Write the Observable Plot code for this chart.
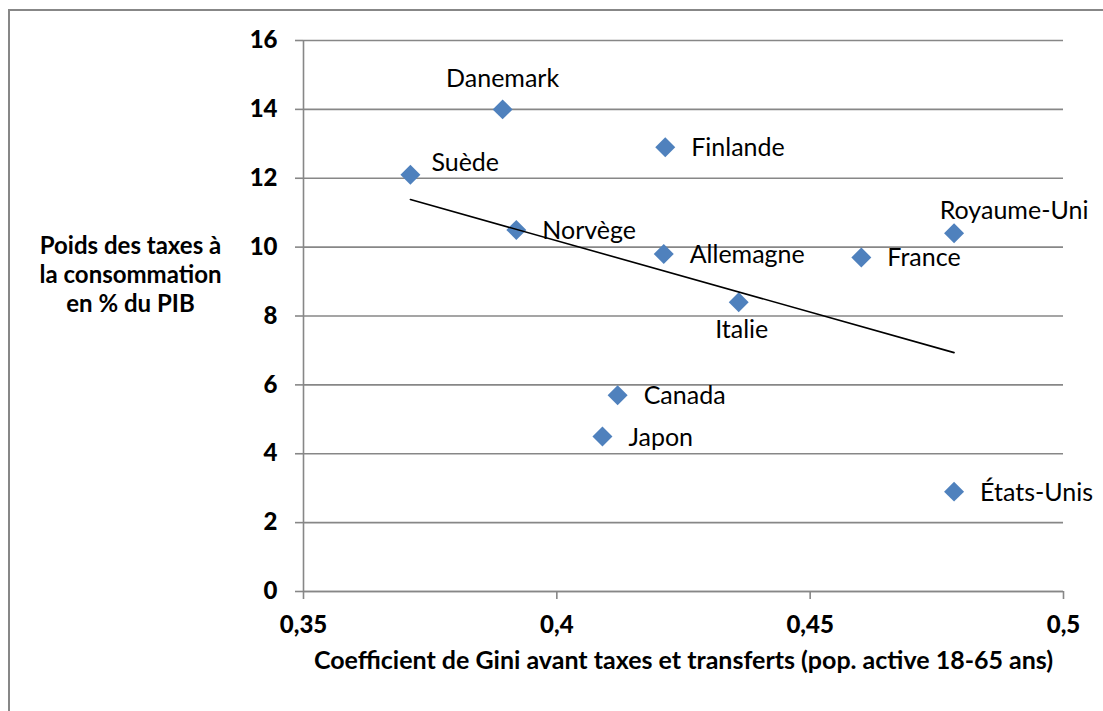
<!DOCTYPE html>
<html>
<head>
<meta charset="utf-8">
<script src="https://cdn.jsdelivr.net/npm/d3@7"></script>
<script src="https://cdn.jsdelivr.net/npm/@observablehq/plot@0.6"></script>
<style>
  html, body { margin: 0; padding: 0; background: #fff; }
  #wrap { position: relative; width: 1103px; height: 711px; overflow: hidden; }
  #border { position: absolute; left: 8px; top: 9px; width: 1200px; height: 800px;
            border-left: 2px solid #878787; border-top: 2px solid #878787; }
  #chart { position: absolute; left: 0; top: 0; }
</style>
</head>
<body>
<div id="wrap"><div id="border"></div><div id="chart"></div></div>
<script>
// Data
const countries = ["Suède", "Danemark", "Norvège", "Finlande", "Allemagne", "Italie", "France", "Royaume-Uni", "États-Unis", "Canada", "Japon"];
const gini = [0.3711, 0.3893, 0.3920, 0.4214, 0.4211, 0.4359, 0.4601, 0.4784, 0.4784, 0.4120, 0.4090];
const taxes = [12.1, 14.0, 10.5, 12.9, 9.8, 8.4, 9.7, 10.4, 2.9, 5.7, 4.5];
const xTicks = [0.35, 0.4, 0.45, 0.5];
const yTicks = [0, 2, 4, 6, 8, 10, 12, 14, 16];
const xTitle = "Coefficient de Gini avant taxes et transferts (pop. active 18-65 ans)";
const yTitle = "Poids des taxes à\nla consommation\nen % du PIB";

const data = countries.map((c, i) => ({country: c, x: gini[i], y: taxes[i]}));

// Label placement (layout only)
const placement = {
  "Suède": ["start", 21, -12],
  "Danemark": ["middle", 0, -30],
  "Italie": ["middle", 3, 28],
  "Royaume-Uni": ["middle", 60, -22]
};
const defaultPlacement = ["start", 26, 1];

const FONT = "Lato";
const gray = "#878787";

const labelMarks = data.map(d => {
  const [anchor, dx, dy] = placement[d.country] || defaultPlacement;
  return Plot.text([d], {x: "x", y: "y", text: "country", textAnchor: anchor, dx, dy,
    fontSize: 25, fill: "black", fontFamily: FONT});
});

const fmt = d => String(d).replace(".", ",");

const chart = Plot.plot({
  width: 1103,
  height: 711,
  marginLeft: 303,
  marginRight: 40,
  marginTop: 40,
  marginBottom: 120,
  style: {fontFamily: FONT, fontSize: "24px", color: "black", background: "transparent", overflow: "visible"},
  x: {domain: [0.35, 0.5], ticks: xTicks, tickFormat: fmt, label: null},
  y: {domain: [0, 16], ticks: yTicks, label: null},
  marks: [
    Plot.gridY(yTicks, {stroke: gray, strokeOpacity: 1, strokeWidth: 1.6}),
    Plot.ruleX([0.35], {stroke: gray, strokeWidth: 1.6}),
    Plot.ruleY([0], {stroke: gray, strokeWidth: 1.6}),
    Plot.axisY(yTicks, {tickSize: 8, tickPadding: 18, stroke: gray, strokeWidth: 1.6, fill: "black", fontWeight: 900, fontSize: 24, label: null}),
    Plot.axisX(xTicks, {tickSize: 8, tickPadding: 16, stroke: gray, strokeWidth: 1.6, fill: "black", fontWeight: 900, fontSize: 24, label: null, tickFormat: fmt}),
    Plot.dot(data, {x: "x", y: "y", symbol: "diamond2", r: 9, fill: "#4F81BD", stroke: "none"}),
    Plot.linearRegressionY(data, {x: "x", y: "y", stroke: "black", strokeWidth: 1.6, ci: 0}),
    ...labelMarks,
    Plot.text([yTitle], {frameAnchor: "left", dx: -173, dy: -42, text: d => d, textAnchor: "middle",
      lineHeight: 1.2, fontWeight: "bold", fontSize: 24, fill: "black", fontFamily: FONT}),
    Plot.text([xTitle], {frameAnchor: "bottom", dy: 77, text: d => d, textAnchor: "middle",
      fontWeight: "bold", fontSize: 25, fill: "black", fontFamily: FONT})
  ]
});
document.getElementById("chart").appendChild(chart);
</script>
</body>
</html>
